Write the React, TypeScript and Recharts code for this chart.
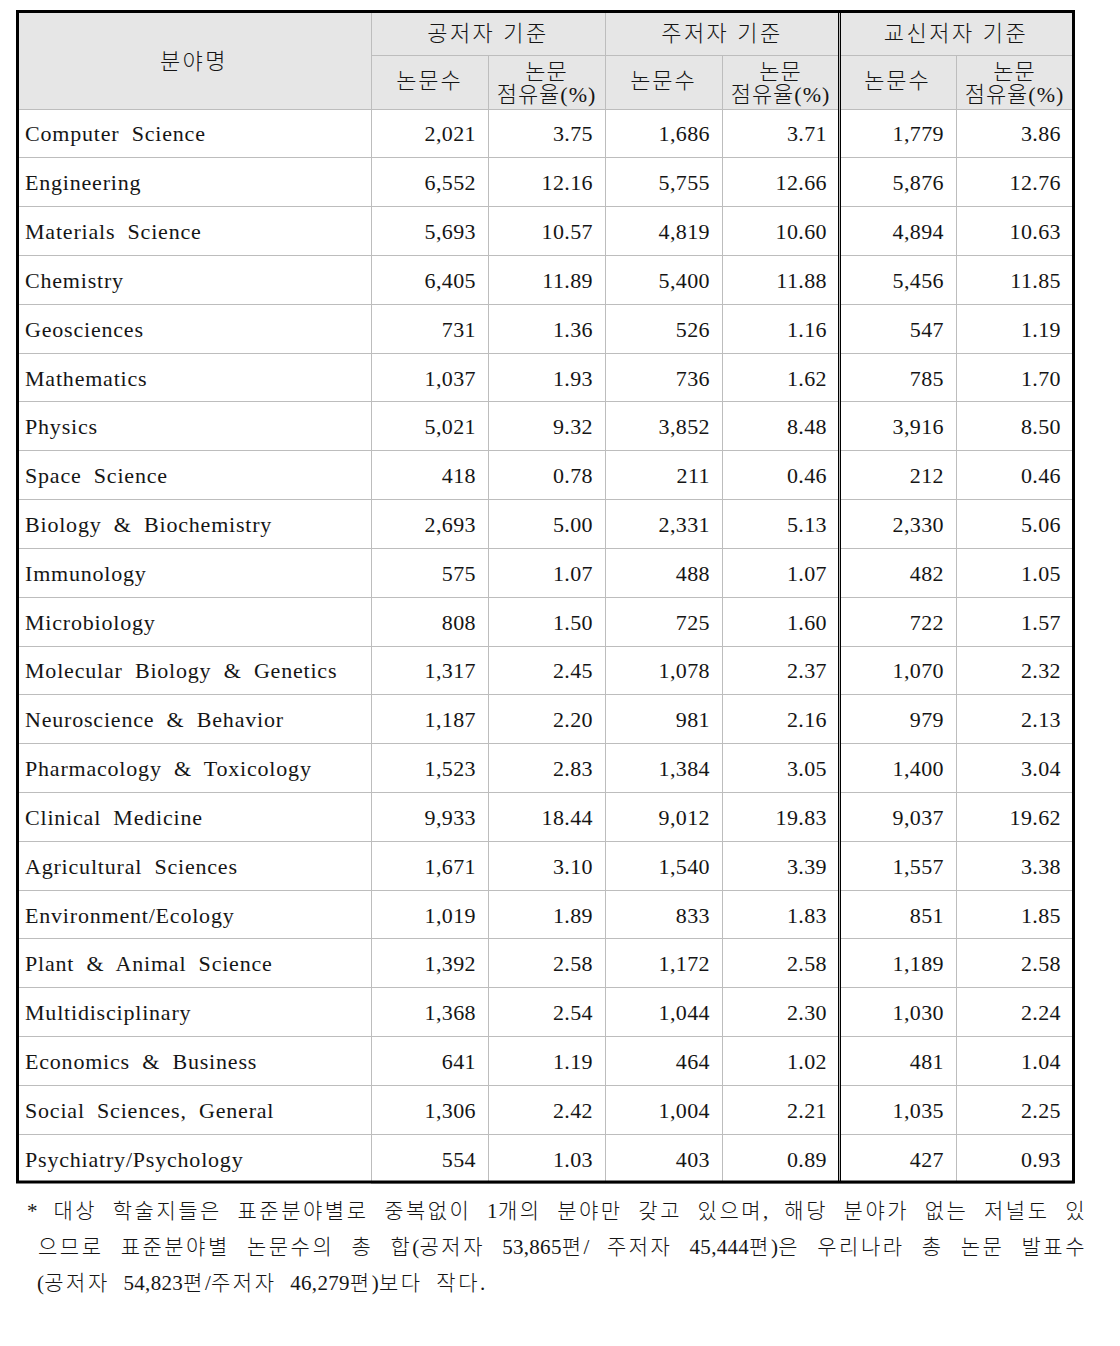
import React from 'react';
import { ScatterChart, Scatter, XAxis, YAxis, ReferenceArea } from 'recharts';

// ---------- data ----------
const fieldHeader = '분야명';
const groups = ['공저자 기준', '주저자 기준', '교신저자 기준'];
const subHeaders = ['논문수', '논문\n점유율(%)'];

const fields = [
  'Computer Science', 'Engineering', 'Materials Science', 'Chemistry', 'Geosciences',
  'Mathematics', 'Physics', 'Space Science', 'Biology & Biochemistry', 'Immunology',
  'Microbiology', 'Molecular Biology & Genetics', 'Neuroscience & Behavior',
  'Pharmacology & Toxicology', 'Clinical Medicine', 'Agricultural Sciences',
  'Environment/Ecology', 'Plant & Animal Science', 'Multidisciplinary',
  'Economics & Business', 'Social Sciences, General', 'Psychiatry/Psychology',
];

const coCount = [2021, 6552, 5693, 6405, 731, 1037, 5021, 418, 2693, 575, 808, 1317, 1187, 1523, 9933, 1671, 1019, 1392, 1368, 641, 1306, 554];
const coShare = [3.75, 12.16, 10.57, 11.89, 1.36, 1.93, 9.32, 0.78, 5.0, 1.07, 1.5, 2.45, 2.2, 2.83, 18.44, 3.1, 1.89, 2.58, 2.54, 1.19, 2.42, 1.03];
const firstCount = [1686, 5755, 4819, 5400, 526, 736, 3852, 211, 2331, 488, 725, 1078, 981, 1384, 9012, 1540, 833, 1172, 1044, 464, 1004, 403];
const firstShare = [3.71, 12.66, 10.6, 11.88, 1.16, 1.62, 8.48, 0.46, 5.13, 1.07, 1.6, 2.37, 2.16, 3.05, 19.83, 3.39, 1.83, 2.58, 2.3, 1.02, 2.21, 0.89];
const corrCount = [1779, 5876, 4894, 5456, 547, 785, 3916, 212, 2330, 482, 722, 1070, 979, 1400, 9037, 1557, 851, 1189, 1030, 481, 1035, 427];
const corrShare = [3.86, 12.76, 10.63, 11.85, 1.19, 1.7, 8.5, 0.46, 5.06, 1.05, 1.57, 2.32, 2.13, 3.04, 19.62, 3.38, 1.85, 2.58, 2.24, 1.04, 2.25, 0.93];

const footnote = [
  '* 대상 학술지들은 표준분야별로 중복없이 1개의 분야만 갖고 있으며, 해당 분야가 없는 저널도 있',
  '으므로 표준분야별 논문수의 총 합(공저자 53,865편/ 주저자 45,444편)은 우리나라 총 논문 발표수',
  '(공저자 54,823편/주저자 46,279편)보다 작다.',
];

// ---------- derived table ----------
const seriesCols = [coCount, coShare, firstCount, firstShare, corrCount, corrShare];
const colKeys = groups.flatMap((g) => subHeaders.map((s) => `${g}|${s}`));
const fmt = (c: number, v: number) =>
  c % 2 === 0 ? v.toLocaleString('en-US') : v.toFixed(2);
const cells = fields.flatMap((name, r) =>
  colKeys.map((col, c) => ({ name, col, label: fmt(c, seriesCols[c][r]) }))
);

// ---------- layout / style ----------
const W = 1112;
const H = 1338;
const MARGIN = { top: 2, left: 9, right: 47, bottom: 163 };
const YW = 354;
const HEAD_H = 99;
const GRP_H = 45;
const PLOT_LEFT = MARGIN.left + YW; // 363
const PLOT_TOP = MARGIN.top + HEAD_H; // 101
const PLOT_W = W - MARGIN.left - MARGIN.right - YW; // 702
const PLOT_H = H - MARGIN.top - MARGIN.bottom - HEAD_H; // 1074
const BAND = PLOT_W / colKeys.length;
const ROW = PLOT_H / fields.length;
const SUB_TOP = PLOT_TOP - (HEAD_H - GRP_H);
const GRID = '#bdbdbd';
const HEAD_BG = '#e6e6e6';
const INK = '#151515';
const FONT = "'Liberation Serif', 'Noto Sans CJK KR', serif";
const KFONT = "'Liberation Serif', 'Noto Sans CJK KR', sans-serif";

const HeaderTick = (props: any) => {
  const { x, payload } = props;
  const [group, sub] = String(payload.value).split('|');
  const left = x - BAND / 2;
  const grpTop = PLOT_TOP - HEAD_H;
  const lines = sub.split('\n');
  const isFirst = sub === subHeaders[0];
  return (
    <g>
      <rect x={left} y={SUB_TOP} width={BAND} height={HEAD_H - GRP_H} fill={HEAD_BG} />
      <line x1={left} x2={left + BAND} y1={SUB_TOP} y2={SUB_TOP} stroke={GRID} shapeRendering="crispEdges" />
      <line x1={left} x2={left} y1={SUB_TOP} y2={PLOT_TOP} stroke={GRID} shapeRendering="crispEdges" />
      {lines.length === 1 ? (
        <text x={x} y={80} textAnchor="middle" fontFamily={KFONT} fontSize={22} fontWeight={300} letterSpacing={2} fill={INK}>
          {lines[0]}
        </text>
      ) : (
        lines.map((t, i) => (
          <text key={i} x={x} y={71 + i * 23} textAnchor="middle" fontFamily={KFONT} fontSize={22} fontWeight={300} letterSpacing={1} fill={INK}>
            {t}
          </text>
        ))
      )}
      {isFirst && (
        <g>
          <rect x={left} y={grpTop} width={BAND * 2} height={GRP_H} fill={HEAD_BG} />
          <line x1={left} x2={left} y1={grpTop} y2={SUB_TOP} stroke={GRID} shapeRendering="crispEdges" />
          <text x={left + BAND} y={33} textAnchor="middle" fontFamily={KFONT} fontSize={22} fontWeight={300} letterSpacing={2.5} fill={INK}>
            {group}
          </text>
        </g>
      )}
    </g>
  );
};

const FieldTick = (props: any) => {
  const { y, payload } = props;
  return (
    <g>
      <line x1={MARGIN.left} x2={PLOT_LEFT} y1={y - ROW / 2} y2={y - ROW / 2} stroke={GRID} shapeRendering="crispEdges" />
      <text x={17} y={y + 8} fontFamily={FONT} fontSize={22} letterSpacing={0.8} wordSpacing={6} fill={INK}>
        {payload.value}
      </text>
    </g>
  );
};

const CellText = (props: any) => {
  const { cx, cy, payload } = props;
  return (
    <text x={cx + BAND / 2 - 12} y={cy + 8} textAnchor="end" fontFamily={FONT} fontSize={22} letterSpacing={0.4} fill={INK}>
      {payload.label}
    </text>
  );
};

// split into Latin/digit runs (tight spacing) and Hangul runs (wider spacing)
const runs = (text: string, hangulLs: number) =>
  text.split(/([0-9A-Za-z,./()*%]+)/).filter((s) => s.length > 0).map((s, i) => (
    <tspan key={i} letterSpacing={/^[0-9A-Za-z,./()*%]+$/.test(s) ? 0.3 : hangulLs}>{s}</tspan>
  ));

const Justified = ({ text, target, ...rest }: any) => {
  const ref = React.useRef<SVGTextElement>(null);
  const [ws, setWs] = React.useState(0);
  React.useLayoutEffect(() => {
    const el = ref.current;
    if (!el) return;
    const natural = el.getComputedTextLength();
    const spaces = (text.match(/ /g) || []).length;
    if (spaces > 0) setWs(Math.max(0, (target - natural) / spaces));
  }, [text, target]);
  return (
    <text ref={ref} {...rest} style={{ wordSpacing: `${ws}px` }}>
      {runs(text, 2.5)}
    </text>
  );
};

const Overlay = () => {
  const dblX = PLOT_LEFT + BAND * 4;
  return (
    <svg width={W} height={H} style={{ position: 'absolute', left: 0, top: 0, pointerEvents: 'none' }}>
      <rect x={MARGIN.left} y={MARGIN.top} width={YW} height={HEAD_H} fill={HEAD_BG} />
      <line x1={PLOT_LEFT} x2={PLOT_LEFT} y1={MARGIN.top} y2={PLOT_TOP} stroke={GRID} shapeRendering="crispEdges" />
      <line x1={MARGIN.left} x2={PLOT_LEFT} y1={PLOT_TOP} y2={PLOT_TOP} stroke={GRID} shapeRendering="crispEdges" />
      <text x={MARGIN.left + YW / 2} y={61} textAnchor="middle" fontFamily={KFONT} fontSize={22} fontWeight={300} letterSpacing={2.5} fill={INK}>
        {fieldHeader}
      </text>
      <line x1={dblX - 0.5} x2={dblX - 0.5} y1={MARGIN.top} y2={PLOT_TOP + PLOT_H} stroke="#000" strokeWidth={1} />
      <line x1={dblX + 1.5} x2={dblX + 1.5} y1={MARGIN.top} y2={PLOT_TOP + PLOT_H} stroke="#000" strokeWidth={1} />
      <rect x={9.5} y={3.5} width={1056} height={1170.5} fill="none" stroke="#000" strokeWidth={3} />
      <Justified text={footnote[0]} target={1060} x={19} y={1210} fontFamily={KFONT} fontSize={21} fontWeight={300} fill={INK} />
      <Justified text={footnote[1]} target={1049} x={30} y={1246} fontFamily={KFONT} fontSize={21} fontWeight={300} fill={INK} />
      <text x={29} y={1282} fontFamily={KFONT} fontSize={21} fontWeight={300} wordSpacing={6} fill={INK}>
        {runs(footnote[2], 2.5)}
      </text>
    </svg>
  );
};

export default function App() {
  return (
    <div style={{ position: 'relative', width: W, height: H }}>
      <ScatterChart width={W} height={H} margin={MARGIN}>
        <XAxis
          xAxisId={0}
          type="category"
          dataKey="col"
          orientation="top"
          height={HEAD_H}
          allowDuplicatedCategory={false}
          axisLine={false}
          tickLine={false}
          tickSize={0}
          tickMargin={0}
          interval={0}
          tick={<HeaderTick />}
        />
        <YAxis
          yAxisId={0}
          type="category"
          dataKey="name"
          width={YW}
          reversed
          allowDuplicatedCategory={false}
          axisLine={false}
          tickLine={false}
          tickSize={0}
          tickMargin={0}
          interval={0}
          tick={<FieldTick />}
        />
        {fields.map((f) => (
          <ReferenceArea key={`r-${f}`} y1={f} y2={f} fill="#fff" fillOpacity={0} stroke={GRID} strokeWidth={1} shapeRendering="crispEdges" />
        ))}
        {colKeys.map((c) => (
          <ReferenceArea key={`c-${c}`} x1={c} x2={c} fill="#fff" fillOpacity={0} stroke={GRID} strokeWidth={1} shapeRendering="crispEdges" />
        ))}
        <Scatter data={cells} isAnimationActive={false} shape={<CellText />} />
      </ScatterChart>
      <Overlay />
    </div>
  );
}
